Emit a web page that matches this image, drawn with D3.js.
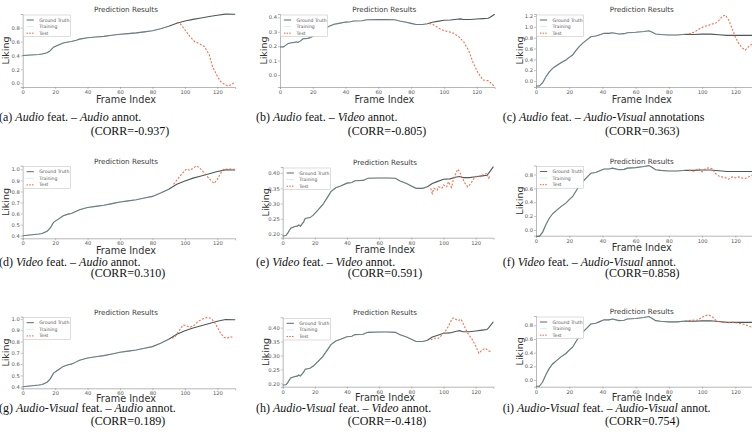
<!DOCTYPE html>
<html>
<head>
<meta charset="utf-8">
<script src="https://cdn.jsdelivr.net/npm/d3@7"></script>
<style>
  body { margin: 0; background: #fff; }
  svg { display: block; }
  .tick text { font-family: "DejaVu Sans", sans-serif; font-size: 5.2px; fill: #555; }
  .tick line { stroke: #888; }
  .domain { stroke: #999; }
</style>
</head>
<body>
<svg width="752" height="437"></svg>
<script>
// Ground truth curves (same annotation -> same curve in each column)
const gtAudioFrames = [0,10,12,15,17,19,22,25,28,30,33,35,40,45,50,55,60,65,70,75,80,85,90,95,100,105,110,115,120,125,131];
const gtAudioValues = [0.40,0.415,0.42,0.44,0.47,0.52,0.55,0.58,0.595,0.60,0.62,0.635,0.655,0.665,0.675,0.69,0.705,0.715,0.725,0.74,0.755,0.785,0.82,0.865,0.895,0.92,0.94,0.96,0.98,0.995,0.993];

const gtVideoFrames = [0,2,3,5,7,9,10,11,13,14,17,19,22,25,28,30,33,36,40,43,45,50,53,60,65,70,73,77,80,83,87,90,93,96,100,104,108,110,112,116,120,124,127,128,131];
const gtVideoValues = [0.194,0.195,0.202,0.219,0.224,0.226,0.23,0.226,0.24,0.251,0.254,0.262,0.279,0.297,0.322,0.339,0.352,0.358,0.367,0.369,0.375,0.376,0.383,0.384,0.384,0.383,0.374,0.366,0.358,0.35,0.35,0.355,0.366,0.372,0.38,0.381,0.387,0.389,0.385,0.385,0.388,0.391,0.393,0.399,0.421];

const gtAVFrames = [0,2,4,6,8,10,12,15,18,20,22,24,26,28,30,33,36,38,41,44,46,50,53,55,60,65,68,70,72,75,80,85,90,95,100,105,110,115,120,131];
const gtAVValues = [-0.092,-0.092,-0.03,0.08,0.17,0.234,0.277,0.338,0.388,0.437,0.48,0.56,0.634,0.695,0.745,0.818,0.83,0.85,0.88,0.88,0.892,0.868,0.874,0.892,0.9,0.915,0.928,0.9,0.868,0.86,0.85,0.85,0.862,0.86,0.865,0.866,0.855,0.843,0.843,0.843];

const trainEnd = 92;

// Test predictions, one per panel
const testAFrames = [95,97,100,103,106,108,112,115,117,120,122,125,127,129,131];
const testAValues = [0.877,0.86,0.77,0.675,0.60,0.58,0.53,0.41,0.24,0.10,0.025,-0.025,-0.04,-0.015,0.02];
const testBFrames = [91,94,97,100,103,106,109,112,115,118,121,124,127,129,131];
const testBValues = [0.358,0.347,0.324,0.308,0.30,0.289,0.266,0.231,0.173,0.081,0.012,-0.035,-0.039,-0.058,-0.081];
const testCFrames = [92,95,98,101,103,106,108,110,112,114,116,118,120,122,124,126,128,130];
const testCValues = [0.868,0.898,0.954,1.003,1.02,1.052,1.065,1.114,1.188,1.218,1.126,0.972,0.818,0.695,0.615,0.572,0.634,0.68];
const testDFrames = [93,96,99,101,103,105,107,109,112,116,118,120,122,124,127,131];
const testDValues = [0.864,0.92,0.973,1.003,0.99,1.01,1.03,1.015,0.964,0.90,0.873,0.91,0.964,1.0,1.003,1.0];
const testEFrames = [92,93,94,96,97,99,100,102,103,105,106,108,109,111,113,115,117,119,121,123,125,127,128,129];
const testEValues = [0.35,0.333,0.35,0.344,0.355,0.35,0.361,0.355,0.372,0.353,0.377,0.404,0.413,0.393,0.369,0.355,0.366,0.383,0.391,0.388,0.396,0.399,0.383,0.391];
const testFFrames = [92,95,98,100,102,104,106,108,110,112,114,116,118,120,122,124,126,128,130];
const testFValues = [0.862,0.848,0.886,0.838,0.886,0.896,0.886,0.814,0.78,0.766,0.752,0.733,0.766,0.752,0.766,0.752,0.742,0.766,0.79];
const testGFrames = [92,94,96,99,101,103,106,108,111,114,116,118,120,122,124,126,128,130];
const testGValues = [0.829,0.843,0.888,0.947,0.938,0.926,0.947,0.976,1.0,1.015,1.005,0.976,0.926,0.873,0.837,0.829,0.843,0.835];
const testHFrames = [92,94,97,99,101,103,105,106,107,109,111,113,115,118,120,122,124,126,128,130];
const testHValues = [0.356,0.362,0.362,0.374,0.386,0.404,0.428,0.435,0.432,0.425,0.43,0.404,0.38,0.356,0.334,0.308,0.32,0.326,0.316,0.314];
const testIFrames = [92,94,96,98,100,102,104,106,108,110,113,116,119,122,125,128,130];
const testIValues = [0.868,0.878,0.868,0.888,0.917,0.941,0.951,0.927,0.878,0.854,0.844,0.839,0.844,0.829,0.815,0.79,0.77];

// Tick labels
const xTicks = [0,20,40,60,80,100,120];
const yTicksA = [0.0,0.2,0.4,0.6,0.8];
const yTicksB = [0.0,0.1,0.2,0.3,0.4];
const yTicksC = [0.0,0.2,0.4,0.6,0.8,1.0,1.2];
const yTicksD = [0.4,0.5,0.6,0.7,0.8,0.9,1.0];
const yTicksE = [0.20,0.25,0.30,0.35,0.40];
const yTicksF = [0.0,0.2,0.4,0.6,0.8];

const legendLabels = ["Ground Truth","Training","Test"];
const corrValues = ["-0.937","-0.805","0.363","0.310","0.591","0.858","0.189","-0.418","0.754"];

// captions: [text, italic]
const captions = [
  [["(a) ",0],["Audio",1],[" feat. – ",0],["Audio",1],[" annot.",0]],
  [["(b) ",0],["Audio",1],[" feat. – ",0],["Video",1],[" annot.",0]],
  [["(c) ",0],["Audio",1],[" feat. – ",0],["Audio-Visual",1],[" annotations",0]],
  [["(d) ",0],["Video",1],[" feat. – ",0],["Audio",1],[" annot.",0]],
  [["(e) ",0],["Video",1],[" feat. – ",0],["Video",1],[" annot.",0]],
  [["(f) ",0],["Video",1],[" feat. – ",0],["Audio-Visual",1],[" annot.",0]],
  [["(g) ",0],["Audio-Visual",1],[" feat. – ",0],["Audio",1],[" annot.",0]],
  [["(h) ",0],["Audio-Visual",1],[" feat. – ",0],["Video",1],[" annot.",0]],
  [["(i) ",0],["Audio-Visual",1],[" feat. – ",0],["Audio-Visual",1],[" annot.",0]]
];

function zip(fr, vals) { return fr.map(function(f,i){ return {x:f, y:vals[i]}; }); }
const gts = {
  audio: zip(gtAudioFrames, gtAudioValues),
  video: zip(gtVideoFrames, gtVideoValues),
  av: zip(gtAVFrames, gtAVValues)
};

// panel layout (pixel boxes) + which data goes in
const panels = [
  {l:22.7, t:14,    w:212.5, h:73,   gt:"audio", test:zip(testAFrames,testAValues), y:[-0.054,0.997], ticks:yTicksA, fmt:".1f"},
  {l:280,  t:14,    w:214.7, h:73,   gt:"video", test:zip(testBFrames,testBValues), y:[-0.083,0.423], ticks:yTicksB, fmt:".1f"},
  {l:536,  t:14,    w:217.6, h:73,   gt:"av",    test:zip(testCFrames,testCValues), y:[-0.11,1.237],  ticks:yTicksC, fmt:".1f"},
  {l:22.7, t:165.7, w:212.5, h:72.6, gt:"audio", test:zip(testDFrames,testDValues), y:[0.3765,1.0325],ticks:yTicksD, fmt:".1f"},
  {l:282.7,t:167,   w:210.7, h:70.7, gt:"video", test:zip(testEFrames,testEValues), y:[0.188,0.42],   ticks:yTicksE, fmt:".2f"},
  {l:536,  t:165.5, w:217.6, h:70.2, gt:"av",    test:zip(testFFrames,testFValues), y:[-0.082,0.93],  ticks:yTicksF, fmt:".1f"},
  {l:22.7, t:316.7, w:212.5, h:71.6, gt:"audio", test:zip(testGFrames,testGValues), y:[0.386,1.02],   ticks:yTicksD, fmt:".1f"},
  {l:282.7,t:317.3, w:210.7, h:69.4, gt:"video", test:zip(testHFrames,testHValues), y:[0.188,0.437],  ticks:yTicksE, fmt:".2f"},
  {l:536,  t:316,   w:217.6, h:70.7, gt:"av",    test:zip(testIFrames,testIValues), y:[-0.098,0.936], ticks:yTicksF, fmt:".1f"}
];
const capX1 = [-1, 256, 502.7];
const capX2 = [90.7, 347.7, 605];
const capY1 = [120.5, 266, 411.5];
const capY2 = [134.5, 277, 425];
const xlabOffset = [15.8, 15.5, 14]; // per row

const gtColor = "#4b5858", trainColor = "#b7e3ea", testColor = "#f2603f";
const svg = d3.select("svg");

panels.forEach(function(p, i) {
  const col = i % 3, row = Math.floor(i / 3);
  const g = svg.append("g").attr("transform", "translate(" + p.l + "," + p.t + ")");
  const x = d3.scaleLinear().domain([0,131]).range([0,p.w]);
  const y = d3.scaleLinear().domain(p.y).range([p.h,0]);
  const line = d3.line().x(function(d){return x(d.x);}).y(function(d){return y(d.y);});

  g.append("g").attr("transform","translate(0,"+p.h+")")
    .call(d3.axisBottom(x).tickValues(xTicks).tickSize(2).tickPadding(1.5));
  g.append("g")
    .call(d3.axisLeft(y).tickValues(p.ticks).tickFormat(d3.format(p.fmt)).tickSize(2).tickPadding(1));
  g.selectAll(".domain").attr("stroke-width",0.7);
  g.selectAll(".tick line").attr("stroke-width",0.5);

  const gt = gts[p.gt];
  g.append("path").datum(gt).attr("d",line)
    .attr("fill","none").attr("stroke",gtColor).attr("stroke-width",1.1);
  g.append("path").datum(gt.filter(function(d){return d.x <= trainEnd;})).attr("d",line)
    .attr("fill","none").attr("stroke",trainColor).attr("stroke-width",0.5).attr("opacity",0.6);
  g.append("path").datum(p.test).attr("d",line)
    .attr("fill","none").attr("stroke",testColor).attr("stroke-width",1.1)
    .attr("stroke-dasharray","2,1.6").attr("opacity",0.9);

  // title + labels
  g.append("text").attr("x",p.w/2 - 3).attr("y",-2).attr("text-anchor","middle")
    .style("font-family","DejaVu Sans").style("font-size","7.2px").attr("fill","#3a3a3a")
    .text("Prediction Results");
  g.append("text").attr("x",p.w/2 - 3).attr("y",p.h + xlabOffset[row]).attr("text-anchor","middle")
    .style("font-family","DejaVu Sans").style("font-size","9.7px").attr("fill","#333")
    .text("Frame Index");
  g.append("text").attr("transform","translate(-13.5,"+(p.h/2)+") rotate(-90)").attr("text-anchor","middle")
    .style("font-family","DejaVu Sans").style("font-size","9.5px").attr("fill","#333")
    .text("Liking");

  // legend
  const lg = g.append("g").attr("transform","translate(0.6,1)");
  lg.append("rect").attr("width",47).attr("height",21.7)
    .attr("fill","#fff").attr("stroke","#bbb").attr("stroke-width",0.5);
  const styles = [[gtColor,null,0.9],[trainColor,null,0.6],[testColor,"1.5,1.2",1]];
  legendLabels.forEach(function(lab, k) {
    const yy = 5 + k*6.6;
    lg.append("line").attr("x1",3.3).attr("x2",10.6).attr("y1",yy).attr("y2",yy)
      .attr("stroke",styles[k][0]).attr("stroke-width",styles[k][2])
      .attr("stroke-dasharray",styles[k][1]);
    lg.append("text").attr("x",16).attr("y",yy+1.6)
      .style("font-family","DejaVu Sans").style("font-size","4.6px").attr("fill","#555")
      .text(lab);
  });

  // caption
  const c1 = svg.append("text").attr("x",capX1[col]).attr("y",capY1[row])
    .style("font-family","Liberation Serif").style("font-size","12px").attr("fill","#111");
  captions[i].forEach(function(s) {
    c1.append("tspan").style("font-style", s[1] ? "italic" : "normal").text(s[0]);
  });
  svg.append("text").attr("x",capX2[col]).attr("y",capY2[row])
    .style("font-family","Liberation Serif").style("font-size","12px").attr("fill","#111")
    .text("(CORR=" + corrValues[i] + ")");
});
</script>
</body>
</html>
